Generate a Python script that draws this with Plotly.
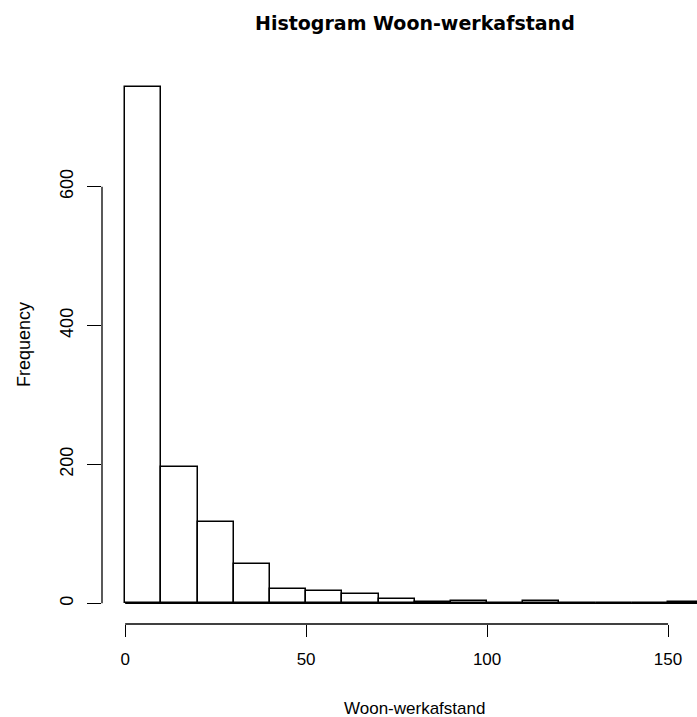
import plotly.graph_objects as go

bin_edges = [0, 10, 20, 30, 40, 50, 60, 70, 80, 90, 100, 110, 120, 130, 140, 150, 160]
counts = [744, 196, 117, 57, 20, 18, 13, 6, 2, 4, 0, 4, 0, 0, 0, 2]
x_ticks = [0, 50, 100, 150]
y_ticks = [0, 200, 400, 600]
title = "Histogram Woon-werkafstand"
x_label = "Woon-werkafstand"
y_label = "Frequency"

mids = [(a + b) / 2 for a, b in zip(bin_edges[:-1], bin_edges[1:])]
widths = [b - a for a, b in zip(bin_edges[:-1], bin_edges[1:])]

W, H = 697, 717
ml, mr, mt, mb = 102, 0, 66, 93
ph = H - mt - mb
pw = W - ml - mr

fig = go.Figure()
fig.add_trace(go.Bar(
    x=mids, y=counts, width=widths,
    marker=dict(color="white", line=dict(color="black", width=1.5)),
    showlegend=False, hoverinfo="skip",
))
# zero-height bins drawn as baseline line (as R does)
fig.add_trace(go.Scatter(
    x=[bin_edges[0], bin_edges[-1]], y=[0, 0], mode="lines",
    line=dict(color="black", width=1.5), showlegend=False, hoverinfo="skip",
))

font = "Liberation Sans, Arial, sans-serif"
fig.update_layout(
    width=W, height=H,
    margin=dict(l=ml, r=mr, t=mt, b=mb, pad=0),
    plot_bgcolor="white", paper_bgcolor="white",
    bargap=0,
    xaxis=dict(range=[-6.4, 158.0], tickvals=x_ticks, ticktext=[str(v) for v in x_ticks],
               ticks="outside", ticklen=12, tickwidth=1.3, tickcolor="black",
               showline=False, showgrid=False, zeroline=False,
               tickfont=dict(family=font, size=17, color="black"),
               ticklabelstandoff=8, fixedrange=True),
    yaxis=dict(range=[-29.8, 773.8], tickvals=y_ticks, ticktext=[str(v) for v in y_ticks],
               ticks="outside", ticklen=14, tickwidth=1.3, tickcolor="black",
               showline=False, showgrid=False, zeroline=False, tickangle=-90,
               tickfont=dict(family=font, size=18, color="black"),
               ticklabelstandoff=7, fixedrange=True),
    shapes=[
        dict(type="line", xref="x", yref="paper", x0=x_ticks[0], x1=x_ticks[-1], y0=0, y1=0,
             line=dict(color="black", width=1.3)),
        dict(type="line", xref="paper", yref="y", x0=0, x1=0, y0=y_ticks[0], y1=y_ticks[-1],
             line=dict(color="black", width=1.3)),
    ],
    annotations=[
        dict(text="<b>" + title + "</b>", xref="paper", yref="paper",
             x=(414.7 - ml) / pw, y=1 + (mt - 23) / ph, xanchor="center", yanchor="middle",
             showarrow=False, font=dict(family="DejaVu Sans, sans-serif", size=19, color="black")),
        dict(text=x_label, xref="paper", yref="paper",
             x=(414.7 - ml) / pw, y=-(708 - (H - mb)) / ph, xanchor="center", yanchor="middle",
             showarrow=False, font=dict(family=font, size=17, color="black")),
        dict(text=y_label, xref="paper", yref="paper", textangle=-90,
             x=-(ml - 24) / pw, y=0.5, xanchor="center", yanchor="middle",
             showarrow=False, font=dict(family=font, size=18, color="black")),
    ],
)

fig.write_html("out.html")
